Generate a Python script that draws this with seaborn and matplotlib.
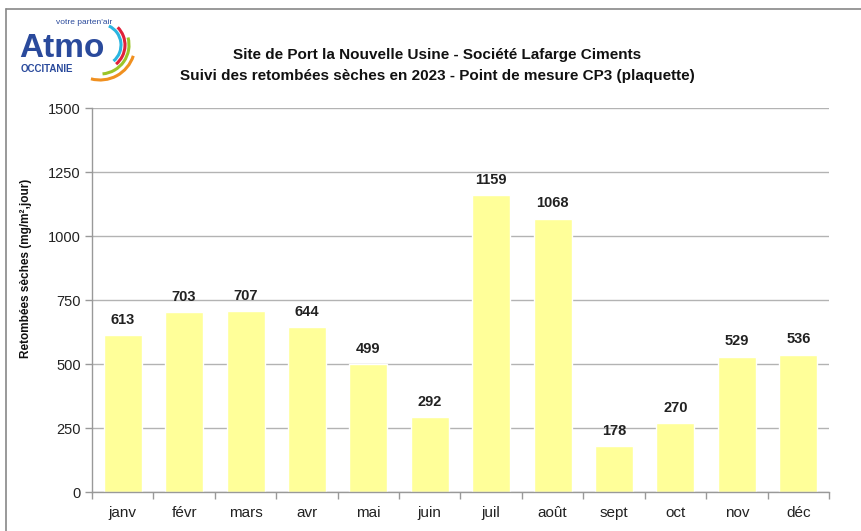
import matplotlib
matplotlib.use("Agg")
import matplotlib.pyplot as plt
import seaborn as sns
import pandas as pd
from matplotlib.patches import Arc
from matplotlib.lines import Line2D

months = ["janv", "févr", "mars", "avr", "mai", "juin", "juil", "août", "sept", "oct", "nov", "déc"]
values = [613, 703, 707, 644, 499, 292, 1159, 1068, 178, 270, 529, 536]
yticks = [0, 250, 500, 750, 1000, 1250, 1500]
title_lines = ["Site de Port la Nouvelle Usine - Société Lafarge Ciments",
               "Suivi des retombées sèches en 2023 - Point de mesure CP3 (plaquette)"]
ylabel = "Retombées sèches (mg/m²,jour)"

sns.set_style("white")
plt.rcParams['font.family'] = ['Liberation Sans', 'DejaVu Sans']

df = pd.DataFrame({"mois": months, "val": values})

W, H = 861, 531
fig = plt.figure(figsize=(W / 100, H / 100), dpi=100)
ax = fig.add_axes([92 / W, 1 - 492 / H, (829 - 92) / W, (492 - 108) / H])

sns.barplot(data=df, x="mois", y="val", order=months, color="#FFFF99",
            saturation=1, width=0.62, ax=ax, zorder=2)

ax.set_ylim(0, 1500)
ax.set_xlim(-0.5, len(months) - 0.5)
ax.set_yticks(yticks)
ax.set_yticklabels([str(t) for t in yticks], fontsize=10.5, color="#222222")
ax.yaxis.grid(True, color="#b3b3b3", linewidth=1.0, zorder=0)
ax.set_axisbelow(True)
ax.tick_params(axis="y", length=5, color="#999999", width=1, pad=3, direction="out", left=True)
ax.tick_params(axis="x", which="major", length=0, labelsize=11, labelcolor="#222222", pad=10)
ax.set_xticks([i - 0.5 for i in range(len(months) + 1)], minor=True)
ax.tick_params(axis="x", which="minor", length=5, color="#999999", width=1, direction="out", bottom=True)
ax.set_xlabel("")
ax.set_ylabel(ylabel, fontsize=8.5, fontweight="bold", color="#111111")
ax.yaxis.set_label_coords(-(92 - 32) / (829 - 92), (492 - 268) / (492 - 108))
for s in ["top", "right"]:
    ax.spines[s].set_visible(False)
for s in ["left", "bottom"]:
    ax.spines[s].set_color("#999999")
    ax.spines[s].set_linewidth(1)

for i, v in enumerate(values):
    ax.annotate(str(v), (i, v), xytext=(0, 6), textcoords="offset points",
                ha="center", va="bottom", fontsize=10.5, fontweight="bold", color="#222222")

fig.text(437 / W, 1 - 55 / H, title_lines[0], ha="center", va="center",
         fontsize=11, fontweight="bold", color="#111111")
fig.text(437 / W, 1 - 76 / H, title_lines[1], ha="center", va="center",
         fontsize=11, fontweight="bold", color="#111111")

# figure frame (top and left lines)
fig.add_artist(Line2D([6 / W, 1], [1 - 9 / H, 1 - 9 / H], color="#888888", linewidth=1.2))
fig.add_artist(Line2D([6 / W, 6 / W], [0, 1 - 9 / H], color="#888888", linewidth=1.2))

# logo
fig.text(19 / W, 1 - 57 / H, "Atmo", fontsize=24, fontweight="bold", color="#2a4a9c",
         ha="left", va="baseline")
fig.text(21 / W, 1 - 64.5 / H, "OCCITANIE", fontsize=7, fontweight="bold", color="#2a4a9c",
         ha="left", va="top")
fig.text(56 / W, 1 - 23 / H, "votre parten'air", fontsize=6, color="#2a4a9c",
         ha="left", va="center")
lax = fig.add_axes([0, 1 - 90 / H, 150 / W, 90 / H])
lax.set_xlim(0, 150)
lax.set_ylim(0, 90)
lax.axis("off")
cx, cy = 100, 90 - 45
for (r, t1, t2, col) in [(21, -50, 65, "#2bb5e0"), (25, -50, 45, "#e0203a"),
                          (29, -85, 15, "#9cc428"), (35, -105, -18, "#f09020")]:
    lax.add_patch(Arc((cx, cy), 2 * r, 2 * r, theta1=t1, theta2=t2, color=col, linewidth=2.2))

fig.savefig("out.png", dpi=100, facecolor="white")
